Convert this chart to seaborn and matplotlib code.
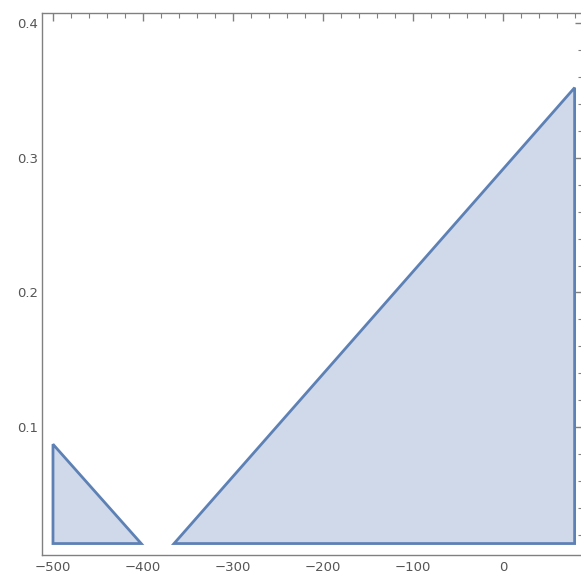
import matplotlib
matplotlib.use("Agg")
import matplotlib.pyplot as plt
import seaborn as sns
import pandas as pd
from matplotlib.ticker import MultipleLocator

sns.set_style("white")
plt.rcParams['font.family'] = ['DejaVu Sans']

# region polygons (x, y)
small_x = [-500, -500, -402]
small_y = [0.0137, 0.0874, 0.0137]
big_x = [-365.5, 79.5, 79.5]
big_y = [0.0137, 0.352, 0.0137]

x_ticks = [-500, -400, -300, -200, -100, 0]
y_ticks = [0.1, 0.2, 0.3, 0.4]

fig = plt.figure(figsize=(5.81, 5.77), dpi=100)
ax = fig.add_axes([42/581, 22/577, 541/581, 542/577])

fill_c = "#cfd9ea"
edge_c = "#5e81b5"
for xs, ys in [(small_x, small_y), (big_x, big_y)]:
    ax.fill(xs, ys, facecolor=fill_c, edgecolor=edge_c, linewidth=2, joinstyle="miter")

ax.set_xlim(-512.2, 88.8)
ax.set_ylim(0.0052, 0.4074)
ax.set_xticks(x_ticks)
ax.set_xticklabels(["\u2212500", "\u2212400", "\u2212300", "\u2212200", "\u2212100", "0"])
ax.set_yticks(y_ticks)
ax.set_yticklabels(["0.1", "0.2", "0.3", "0.4"])
ax.xaxis.set_minor_locator(MultipleLocator(20))
ax.yaxis.set_minor_locator(MultipleLocator(0.02))

frame_c = "#808080"
for s in ax.spines.values():
    s.set_color(frame_c)
    s.set_linewidth(1.0)
ax.tick_params(which="both", direction="in", top=True, right=True,
               color=frame_c, labelcolor="#555555", labelsize=9.5)
ax.tick_params(which="major", length=6, width=1)
ax.tick_params(which="minor", length=3.5, width=0.8)
ax.tick_params(axis="x", pad=4)
ax.tick_params(axis="y", pad=3)

fig.savefig("out.png", dpi=100)
